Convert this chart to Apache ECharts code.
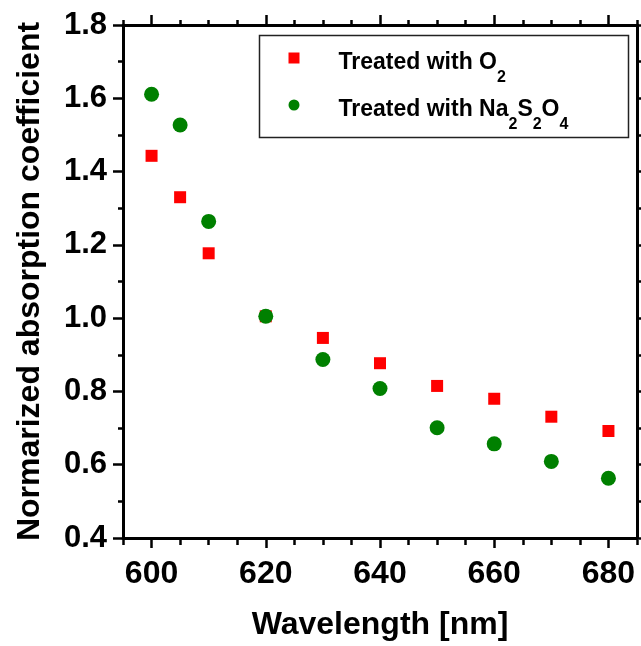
<!DOCTYPE html>
<html><head><meta charset="utf-8">
<script src="https://cdn.jsdelivr.net/npm/echarts@6/dist/echarts.min.js"></script>
<style>html,body{margin:0;padding:0;background:#fff}#c{width:641px;height:646px}</style>
</head><body><div id="c"></div>
<script>
const wavelengths = [600, 605, 610, 620, 630, 640, 650, 660, 670, 680];
const o2Values = [1.443, 1.330, 1.177, 1.005, 0.946, 0.877, 0.815, 0.780, 0.731, 0.692];
const na2s2o4Values = [1.611, 1.527, 1.264, 1.005, 0.887, 0.808, 0.701, 0.657, 0.609, 0.563];
const xMajorTicks = [600, 620, 640, 660, 680];
const seriesNames = ['O2', 'Na2S2O4'];
const xTitle = 'Wavelength [nm]';
const yTitle = 'Normarized absorption coefficient';

const FONT = '"Liberation Sans", Arial, sans-serif';
const chart = echarts.init(document.getElementById('c'), null, {renderer: 'canvas'});
const gridBox = {left: 123, right: 4, top: 25, bottom: 106, containLabel: false};
const lineStyle = {color: '#000', width: 3};
const tickLine = {color: '#000', width: 2.5};

function majorX(pos, showLabel, gridIndex) {
  return {
    type: 'value', gridIndex: gridIndex, position: pos, min: 595, max: 685,
    name: showLabel ? xTitle : '', nameLocation: 'middle', nameGap: 71,
    nameTextStyle: {fontFamily: FONT, fontWeight: 'bold', fontSize: 32, color: '#000'},
    axisLine: {show: true, onZero: false, lineStyle: lineStyle},
    axisTick: {show: true, inside: false, length: 10, lineStyle: tickLine, customValues: xMajorTicks},
    axisLabel: {show: showLabel, customValues: xMajorTicks, margin: 20, fontFamily: FONT, fontWeight: 'bold', fontSize: 32, color: '#000'},
    splitLine: {show: false}
  };
}
function minorX(pos) {
  return {
    type: 'value', gridIndex: 1, position: pos, min: 595, max: 685, interval: 5,
    axisLine: {show: false, onZero: false},
    axisTick: {show: true, inside: false, length: 5, lineStyle: tickLine},
    axisLabel: {show: false}, splitLine: {show: false}
  };
}
function yAx(pos, showLabel) {
  return {
    type: 'value', gridIndex: 0, position: pos, min: 0.4, max: 1.8, interval: 0.2,
    name: showLabel ? yTitle : '', nameLocation: 'middle', nameGap: 77,
    nameTextStyle: {fontFamily: FONT, fontWeight: 'bold', fontSize: 32, color: '#000'},
    axisLine: {show: true, onZero: false, lineStyle: lineStyle},
    axisTick: {show: true, inside: false, length: 10, lineStyle: tickLine},
    minorTick: {show: true, splitNumber: 2, length: 5, lineStyle: tickLine},
    axisLabel: {show: showLabel, margin: 16, fontFamily: FONT, fontWeight: 'bold', fontSize: 31, color: '#000',
      formatter: v => v.toFixed(1)},
    splitLine: {show: false}, minorSplitLine: {show: false}
  };
}

const richStyles = {
  t0: {fontFamily: FONT, fontWeight: 'bold', fontSize: 23, color: '#000', lineHeight: 24, padding: [10, 0, 0, 34]},
  t: {fontFamily: FONT, fontWeight: 'bold', fontSize: 23, color: '#000', lineHeight: 24, padding: [10, 0, 0, 0]},
  s: {fontFamily: FONT, fontWeight: 'bold', fontSize: 16, color: '#000', lineHeight: 16, padding: [40, 0, 0, 0]}
};
function legendLabel(name) {
  if (name === 'O2') return '{t0|Treated with O}{s|2}';
  return '{t0|Treated with Na}{s|2}{t|S}{s|2}{t|O}{s|4}';
}

chart.setOption({
  animation: false,
  backgroundColor: '#fff',
  grid: [Object.assign({}, gridBox), Object.assign({}, gridBox)],
  xAxis: [majorX('bottom', true, 0), majorX('top', false, 0), minorX('bottom'), minorX('top')],
  yAxis: [yAx('left', true), yAx('right', false),
    {type: 'value', gridIndex: 1, min: 0.4, max: 1.8, show: false}],
  legend: {
    orient: 'vertical', left: 288.5, top: 30, padding: 0, itemGap: -9,
    itemWidth: 11, itemHeight: 11,
    data: [{name: 'O2', icon: 'rect'}, {name: 'Na2S2O4', icon: 'circle'}],
    formatter: legendLabel,
    textStyle: {rich: richStyles}
  },
  graphic: [{
    type: 'rect', left: 257, top: 33, z: 100,
    shape: {width: 369, height: 102},
    style: {fill: 'none', stroke: '#222', lineWidth: 1.5}
  }],
  series: [
    {name: seriesNames[0], type: 'scatter', xAxisIndex: 0, yAxisIndex: 0, symbol: 'rect', symbolSize: 12,
      itemStyle: {color: '#ff0000', opacity: 1}, data: wavelengths.map((w, i) => [w, o2Values[i]])},
    {name: seriesNames[1], type: 'scatter', xAxisIndex: 0, yAxisIndex: 0, symbol: 'circle', symbolSize: 15,
      itemStyle: {color: '#008000', opacity: 1}, data: wavelengths.map((w, i) => [w, na2s2o4Values[i]])}
  ]
});
</script></body></html>
